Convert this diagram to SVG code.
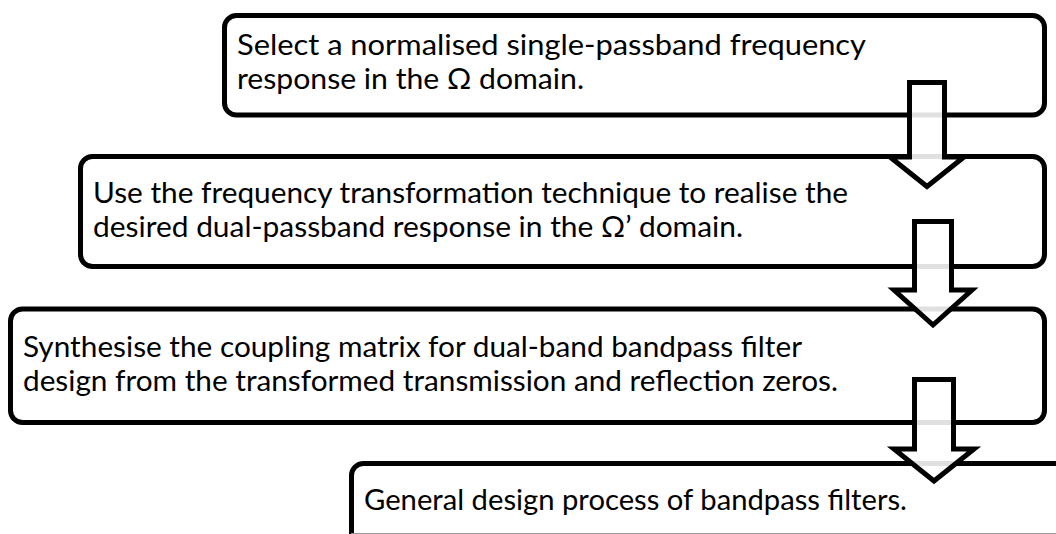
<svg xmlns="http://www.w3.org/2000/svg" width="1056" height="534" viewBox="0 0 1056 534">
  <style>
    .box { fill: #ffffff; stroke: #000000; stroke-width: 5; }
    .step { font-family: Lato, "Open Sans", "Liberation Sans", sans-serif; font-size: 28px; fill: #000000; }
    .flow { fill: #ffffff; fill-opacity: 0.88; stroke: #000000; stroke-width: 5; stroke-linejoin: miter; }
  </style>
  <rect width="1056" height="534" fill="#ffffff"/>

  <g id="step1">
    <rect class="box" x="224.5" y="15.5" width="820" height="99.5" rx="12"/>
    <text class="step" x="237" y="55" textLength="629" lengthAdjust="spacingAndGlyphs">Select a normalised single-passband frequency</text>
    <text class="step" x="237" y="89" textLength="347" lengthAdjust="spacingAndGlyphs">response in the Ω domain.</text>
  </g>

  <g id="step2">
    <rect class="box" x="80.5" y="156.5" width="964" height="110" rx="12"/>
    <text class="step" x="93" y="203" textLength="755" lengthAdjust="spacingAndGlyphs">Use the frequency transformation technique to realise the</text>
    <text class="step" x="93" y="237" textLength="650" lengthAdjust="spacingAndGlyphs">desired dual-passband response in the Ω’ domain.</text>
  </g>

  <g id="step3">
    <rect class="box" x="10.5" y="309" width="1034" height="113.5" rx="12"/>
    <text class="step" x="23" y="357" textLength="779" lengthAdjust="spacingAndGlyphs">Synthesise the coupling matrix for dual-band bandpass filter</text>
    <text class="step" x="23" y="391" textLength="815" lengthAdjust="spacingAndGlyphs">design from the transformed transmission and reflection zeros.</text>
  </g>

  <g id="step4">
    <path class="box" d="M351.5,540 V475.5 A12,12 0 0 1 363.5,463.5 H1070 V540 Z"/>
    <line x1="351" y1="533.5" x2="1056" y2="533.5" stroke="#9a9a9a" stroke-width="1"/>
    <text class="step" x="364" y="510" textLength="543" lengthAdjust="spacingAndGlyphs">General design process of bandpass filters.</text>
  </g>

  <g id="connectors">
    <path class="flow" d="M909.5,82.5 H944.5 V157 H964 L927,186.5 L890,157 H909.5 Z"/>
    <path class="flow" d="M914.5,221.5 H951.5 V290 H972 L933,325 L894,290 H914.5 Z"/>
    <path class="flow" d="M914.5,379.5 H953.5 V449 H974 L934,481 L894,449 H914.5 Z"/>
  </g>
</svg>
